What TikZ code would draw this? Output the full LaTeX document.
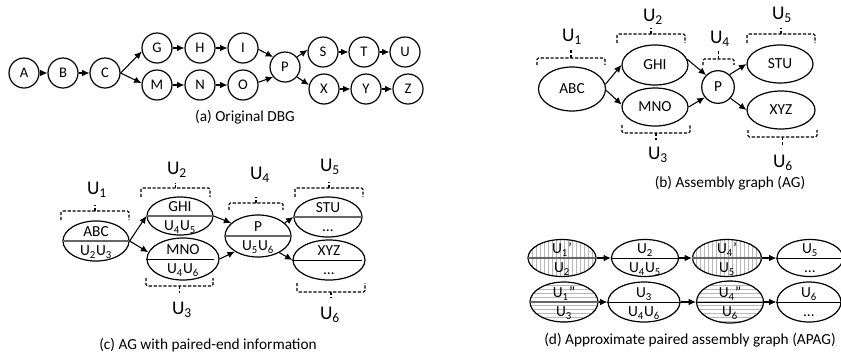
\documentclass[tikz,border=0pt]{standalone}
\usepackage{fontspec}
\setmainfont{Carlito}
\usetikzlibrary{shapes.geometric,arrows.meta,patterns}

\tikzset{
  every node/.style={font=\fontsize{11.5}{13}\selectfont},
  dbg/.style={circle,draw,line width=0.9pt,minimum size=22.5pt,inner sep=0pt,font=\fontsize{11}{13}\selectfont},
  ell/.style 2 args={ellipse,draw,line width=0.9pt,minimum width=#1*0.75pt,minimum height=#2*0.75pt,inner sep=0pt},
  arr/.style={line width=0.8pt,-{Latex[length=5.5pt,width=5pt]}},
  br/.style={line width=0.85pt,dash pattern=on 2.4pt off 1.3pt,rounded corners=1pt},
  brlab/.style={font=\fontsize{14.5}{16}\selectfont},
  captxt/.style={font=\fontsize{11.5}{13}\selectfont},
  divg/.style={line width=0.9pt,black!60},
  divk/.style={line width=0.7pt,black},
  vhatch/.style={pattern=vertical lines,pattern color=black!28},
  hhatch/.style={pattern=horizontal lines,pattern color=black!28},
  tt/.style={anchor=base,inner sep=0pt},
}

% ellipse with a dividing line: name, centre, width, height, upper text, lower text, extra style, divider style
\newcommand\splitell[8]{%
  \node[ell={#3}{#4},#7] (#1) at (#2) {};
  \draw[#8] (#1.west) -- (#1.east);
  \node[tt] (#1-t) at ([yshift=3.3pt]#1.center) {#5};
  \node[tt] (#1-b) at ([yshift=-11pt]#1.center) {#6};
}
% dashed group brackets: x1, x2, y of bar, end length (signed), tick length (signed)
\newcommand\grpbr[5]{%
  \draw[br] (#1,#3+#4) -- (#1,#3) -- (#2,#3) -- (#2,#3+#4);
  \draw[br] ({(#1+#2)/2},#3) -- ({(#1+#2)/2},#3+#5);
}
\newcommand\Us[1]{U\textsubscript{#1}}

\begin{document}
\begin{tikzpicture}[x=0.75pt,y=-0.75pt]
\clip (0,0) rectangle (841,358);

% ---------- (a) original de Bruijn graph ----------
\node[dbg] (A) at (24,73) {A};
\node[dbg] (B) at (63,73) {B};
\node[dbg] (C) at (105,73) {C};
\node[dbg] (G) at (157,48) {G};
\node[dbg] (H) at (200,48) {H};
\node[dbg] (I) at (243,48) {I};
\node[dbg] (M) at (157,85) {M};
\node[dbg] (N) at (200,85) {N};
\node[dbg] (O) at (243,85) {O};
\node[dbg] (P) at (285,67) {P};
\node[dbg] (S) at (323,52) {S};
\node[dbg] (T) at (364,52) {T};
\node[dbg] (U) at (405,52) {U};
\node[dbg] (X) at (324,89) {X};
\node[dbg] (Y) at (366,89) {Y};
\node[dbg] (Z) at (408,89) {Z};
\draw[arr] (A) -- (B);
\draw[arr] (B) -- (C);
\draw[arr] (C.east) -- (G.193);
\draw[arr] (C.east) -- (M.173);
\draw[arr] (G) -- (H);
\draw[arr] (H) -- (I);
\draw[arr] (M) -- (N);
\draw[arr] (N) -- (O);
\draw[arr] (I.-5) -- (P.140);
\draw[arr] (O.10) -- (P.220);
\draw[arr] (P.40) -- (S.172);
\draw[arr] (P.-40) -- (X.165);
\draw[arr] (S) -- (T);
\draw[arr] (T) -- (U);
\draw[arr] (X) -- (Y);
\draw[arr] (Y) -- (Z);
\node[captxt] (capa) at (245,117) {(a) Original DBG};

% ---------- (b) assembly graph ----------
\node[ell={67}{44}] (babc) at (572,89) {ABC};
\node[ell={66}{40}] (bghi) at (655,65) {GHI};
\node[ell={66}{38}] (bmno) at (655,107) {MNO};
\node[dbg,minimum size=24.5pt,font=\fontsize{11.5}{13}\selectfont] (bp) at (718,87) {P};
\node[ell={66}{38}] (bstu) at (780,64) {STU};
\node[ell={68}{38}] (bxyz) at (781,110) {XYZ};
\draw[arr] (babc.8) -- (bghi.west);
\draw[arr] (babc.-2) -- (bmno.176);
\draw[arr] (bghi.10) -- (bp.135);
\draw[arr] (bmno.east) -- (bp.218);
\draw[arr] (bp.47) -- (bstu.west);
\draw[arr] (bp.-42) -- (bxyz.west);
\grpbr{537}{605}{58}{7}{-8}
\grpbr{617}{685}{34}{9}{-6}
\grpbr{703}{734}{59}{6}{-8}
\grpbr{747}{815}{34}{9}{-6}
\grpbr{622}{690}{133}{-8}{7}
\grpbr{748}{817}{137}{-7}{8}
\node[brlab] (bu1) at (572,37) {\Us{1}};
\node[brlab] (bu2) at (653,17) {\Us{2}};
\node[brlab] (bu4) at (720,39) {\Us{4}};
\node[brlab] (bu5) at (782,15) {\Us{5}};
\node[brlab] (bu3) at (658,155) {\Us{3}};
\node[brlab] (bu6) at (783,163) {\Us{6}};
\node[captxt] (capb) at (730,183) {(b) Assembly graph (AG)};

% ---------- (c) AG with paired-end information ----------
\splitell{cabc}{96,241}{66}{40}{ABC}{\Us{2}\Us{3}}{}{divg}
\splitell{cghi}{180,216}{66}{38}{GHI}{\Us{4}\Us{5}}{}{divg}
\splitell{cmno}{183,259}{72}{42}{MNO}{\Us{4}\Us{6}}{}{divk,shorten >=4pt}
\splitell{cp}{258,236}{66}{42}{P}{\Us{5}\Us{6}}{}{divg}
\splitell{cstu}{328,217}{68}{40}{STU}{…}{}{divg}
\splitell{cxyz}{329,260}{72}{40}{XYZ}{…}{}{divk,shorten >=3pt}
\draw[arr] (cabc.east) -- (cghi.west);
\draw[arr] (cabc.east) -- (cmno.169);
\draw[arr] (cghi.east) -- (cp.154);
\draw[arr] (cmno.east) -- (cp.214);
\draw[arr] (cp.26) -- (cstu.west);
\draw[arr] (cp.-38) -- (cxyz.west);
\grpbr{61}{129}{211}{9}{-6}
\grpbr{141}{210}{188}{9}{-5}
\grpbr{229}{283}{203}{7}{-6}
\grpbr{295}{363}{188}{9}{-6}
\grpbr{146}{213}{286}{-8}{7}
\grpbr{297}{365}{292}{-9}{6}
\node[brlab] (cu1) at (97,190) {\Us{1}};
\node[brlab] (cu2) at (177,170) {\Us{2}};
\node[brlab] (cu4) at (260,175) {\Us{4}};
\node[brlab] (cu5) at (330,167) {\Us{5}};
\node[brlab] (cu3) at (182,310) {\Us{3}};
\node[brlab] (cu6) at (330,315) {\Us{6}};
\node[captxt] (capc) at (208,345) {(c) AG with paired-end information};

% ---------- (d) approximate paired assembly graph ----------
\splitell{du1a}{562,258}{68}{37}{\Us{1}’}{\Us{2}}{vhatch}{divg}
\splitell{du2}{645,258}{67}{37}{\Us{2}}{\Us{4}\Us{5}}{}{divk}
\splitell{du4a}{727,258}{69}{37}{\Us{4}’}{\Us{5}}{vhatch}{divg}
\splitell{du5}{810,258}{66}{37}{\Us{5}}{…}{}{divk}
\splitell{du1b}{564,302}{68}{40}{\Us{1}”}{\Us{3}}{hhatch}{divg}
\splitell{du3}{644,302}{72}{40}{\Us{3}}{\Us{4}\Us{6}}{}{divk}
\splitell{du4b}{730,302}{67}{42}{\Us{4}”}{\Us{6}}{hhatch}{divk}
\splitell{du6}{809,302}{64}{40}{\Us{6}}{…}{}{divk}
\draw[arr] (du1a.east) -- (du2.west);
\draw[arr] (du2.east) -- (du4a.west);
\draw[arr] (du4a.east) -- (du5.west);
\draw[arr] (du1b.east) -- (du3.west);
\draw[arr] (du3.east) -- (du4b.west);
\draw[arr] (du4b.east) -- (du6.west);
\node[captxt] (capd) at (690,340) {(d) Approximate paired assembly graph (APAG)};
\end{tikzpicture}
\end{document}
